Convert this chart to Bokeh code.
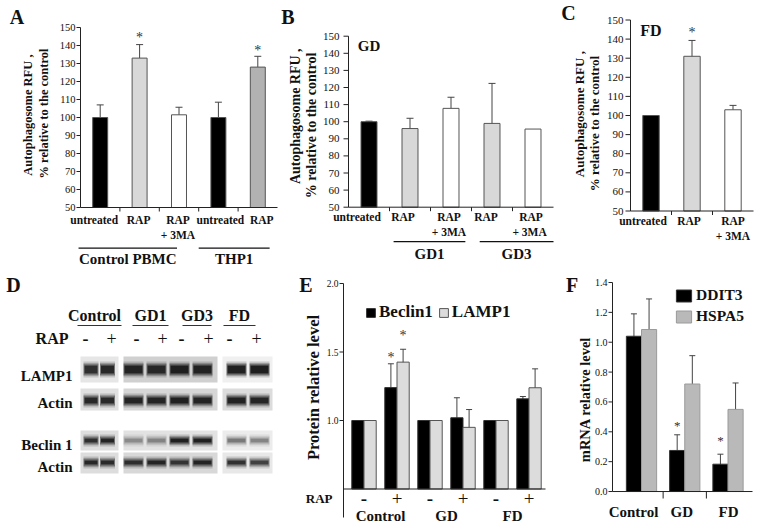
import math
from bokeh.plotting import figure
from bokeh.layouts import row, column
from bokeh.models import (ColumnDataSource, Whisker, TeeHead, Range1d, Legend, LegendItem)
from bokeh.core.properties import value
from bokeh.embed import file_html
from bokeh.resources import INLINE

SERIF = "'Liberation Serif', 'Times New Roman', serif"

# ---------------- data ----------------
# Panel A  (autophagosome RFU, % of control)
a_labels = ["untreated", "RAP", "RAP\n+ 3MA", "untreated", "RAP"]
a_values = [100, 133, 101.5, 100, 128]
a_err_low = [93, 126, 97, 92, 122]
a_err_high = [107, 140.5, 105.7, 108.5, 134]
a_fill = ["#000000", "#d8d8d8", "#ffffff", "#000000", "#b2b2b2"]
a_groups = ["Control PBMC", "THP1"]
a_group_extent = [(-0.55, 1.95), (2.5, 4.3)]
a_star_x = [1, 4]
a_star_y = [146, 139]

# Panel B
b_title = "GD"
b_labels = ["untreated", "RAP", "RAP\n+ 3MA", "RAP", "RAP\n+  3MA"]
b_values = [100, 96, 107.8, 99, 95.7]
b_err_low = [99.6, 90.3, 101.4, 76.4, None]
b_err_high = [100.3, 102, 114.3, 122.4, None]
b_fill = ["#000000", "#d8d8d8", "#ffffff", "#d8d8d8", "#ffffff"]
b_groups = ["GD1", "GD3"]
b_group_extent = [(0.6, 2.35), (2.7, 4.5)]
b_star_x = []
b_star_y = []

# Panel C
c_title = "FD"
c_labels = ["untreated", "RAP", "RAP\n+ 3MA"]
c_values = [100, 131, 103]
c_err_low = [None, 123, 100.7]
c_err_high = [None, 139.3, 105.3]
c_fill = ["#000000", "#d8d8d8", "#ffffff"]
c_star_x = [1]
c_star_y = [145]

# Panel D (western blot band intensities, 0..1)
d_groups = ["Control", "GD1", "GD3", "FD"]
d_rap = ["-", "+", "-", "+", "-", "+", "-", "+"]
d_rows = ["LAMP1", "Actin", "Beclin 1", "Actin"]
d_lamp1 = [0.82, 0.88, 0.9, 0.86, 0.95, 0.92, 0.95, 0.97]
d_actin1 = [0.88, 0.86, 0.9, 0.9, 0.95, 0.92, 0.93, 0.9]
d_beclin = [0.82, 0.9, 0.3, 0.33, 0.95, 0.95, 0.4, 0.35]
d_actin2 = [0.88, 0.85, 0.82, 0.9, 0.78, 0.9, 0.8, 0.7]

# Panel E (protein relative level)
e_rap = ["-", "+", "-", "+", "-", "+"]
e_groups = ["Control", "GD", "FD"]
e_beclin = [1.0, 1.24, 1.0, 1.02, 1.0, 1.158]
e_beclin_lo = [None, 1.07, None, 0.88, None, 1.14]
e_beclin_hi = [None, 1.414, None, 1.166, None, 1.175]
e_lamp = [1.0, 1.426, 1.0, 0.95, 1.0, 1.239]
e_lamp_lo = [None, 1.326, None, 0.83, None, 1.097]
e_lamp_hi = [None, 1.52, None, 1.08, None, 1.377]
e_star_x = [0.815, 1.185]
e_star_y = [1.48, 1.645]

# Panel F (mRNA relative level)
f_groups = ["Control", "GD", "FD"]
f_ddit3 = [1.04, 0.275, 0.183]
f_ddit3_lo = [0.89, 0.17, 0.12]
f_ddit3_hi = [1.19, 0.38, 0.25]
f_hspa5 = [1.085, 0.72, 0.55]
f_hspa5_lo = [0.88, 0.52, 0.375]
f_hspa5_hi = [1.29, 0.91, 0.727]
f_star_x = [0.825, 1.825]
f_star_y = [0.465, 0.365]

INK = "#222222"
EDGE = "#555555"


def panel_fig(page_left, page_top, W, H, X, Y):
    p = figure(toolbar_location=None, output_backend="svg", x_axis_location=None,
               y_axis_location=None, frame_width=W, frame_height=H, min_border=0,
               x_range=Range1d(X(page_left), X(page_left + W)),
               y_range=Range1d(Y(page_top + H), Y(page_top)))
    p.background_fill_color = "white"
    p.border_fill_color = "white"
    p.outline_line_color = None
    p.grid.visible = False
    return p


def texts(p, xs, ys, ts, size, bold=True, align="center", color="#111111", angle=0.0):
    p.text(x=list(xs), y=list(ys), text=list(ts), text_font=value(SERIF),
           text_font_size=value(size), text_font_style=value("bold" if bold else "normal"),
           text_align=value(align), text_baseline=value("middle"), text_color=value(color),
           angle=angle)


def signs(p, xs, ys, ts, size):
    # "-" drawn heavy, "+" drawn light, as in the figure
    for mark, bold in (("-", True), ("+", False)):
        sel = [i for i in range(len(ts)) if ts[i] == mark]
        texts(p, [xs[i] for i in sel], [ys[i] for i in sel], [ts[i] for i in sel], size, bold=bold)


def y_axis(p, X, ax_px, lo, hi, ticks, fmt, fs, out, standoff):
    ax = X(ax_px)
    p.segment(x0=[ax], y0=[lo], x1=[ax], y1=[hi], line_color=INK, line_width=1)
    n = len(ticks)
    p.segment(x0=[X(ax_px - out)] * n, y0=ticks, x1=[ax] * n, y1=ticks, line_color=INK, line_width=1)
    texts(p, [X(ax_px - out - standoff)] * n, ticks, [fmt % t for t in ticks], fs, bold=False,
          align="right")


def whiskers(p, xs, lo, hi, size=7):
    keep = [i for i in range(len(xs)) if lo[i] is not None]
    src = ColumnDataSource(dict(x=[xs[i] for i in keep], lo=[lo[i] for i in keep],
                                hi=[hi[i] for i in keep]))
    p.add_layout(Whisker(source=src, base="x", lower="lo", upper="hi", dimension="height",
                         line_color="#444444", line_width=1,
                         upper_head=TeeHead(size=size, line_color="#444444", line_width=1),
                         lower_head=TeeHead(size=size, line_color="#444444", line_width=1)))


# ---------------- panels A, B, C ----------------
def rfu_panel(labels, vals, lo, hi, fill, star_x, star_y, title, groups, gext, L):
    n = len(labels)
    cw, ys = L["cw"], L["ys"]
    X = lambda px: -0.5 + (px - L["axis"]) / cw
    Y = lambda py: 150 - (py - L["y150"]) / ys
    base_py = L["y150"] + 100 * ys
    p = panel_fig(L["pl"], 0, L["W"], 270, X, Y)

    y_axis(p, X, L["axis"], 50, 150, list(range(50, 151, 10)), "%d", L["tick_fs"], L["tick_out"],
           L["standoff"])

    idx = list(range(n))
    p.vbar(x=idx, top=vals, bottom=50, width=L["bw"], fill_color=fill, line_color=EDGE, line_width=1)
    whiskers(p, idx, lo, hi)

    # category axis line and boundary ticks
    p.segment(x0=[-0.5], y0=[50], x1=[n - 0.5], y1=[50], line_color=INK, line_width=1)
    bx = [i + 0.5 for i in range(n - 1)]
    p.segment(x0=bx, y0=[50] * len(bx), x1=bx, y1=[Y(base_py + 4)] * len(bx), line_color=INK)

    l1 = [t.split("\n")[0] for t in labels]
    l2 = [t.split("\n")[1] if "\n" in t else "" for t in labels]
    dx = L["dx"]
    texts(p, [i + dx[i] / cw for i in idx], [Y(base_py + L["r1"])] * n, l1, "11.5px")
    texts(p, [i + dx[i] / cw for i in idx], [Y(base_py + L["r2"])] * n, l2, "11.5px")

    if groups:
        gy = Y(base_py + L["gl"])
        p.segment(x0=[g[0] for g in gext], y0=[gy] * len(gext), x1=[g[1] for g in gext],
                  y1=[gy] * len(gext), line_color="#111111", line_width=1.3)
        texts(p, [(g[0] + g[1]) / 2 for g in gext], [Y(base_py + L["gt"])] * len(gext), groups, "15px")

    if star_x:
        texts(p, star_x, [v - 3 / ys for v in star_y], ["*"] * len(star_x), "14px", bold=False,
              color="#333333")
    if title:
        texts(p, [0], [144.5], [title], L["title_fs"])

    texts(p, [X(L["letter"][0])], [Y(L["letter"][1])], [L["letter_t"]], "20px")
    texts(p, [X(L["yl1"][0])], [Y(L["yl1"][1])], ["Autophagosome  RFU ,"], L["yl_fs"],
          angle=math.pi / 2)
    texts(p, [X(L["yl2"][0])], [Y(L["yl2"][1])], ["% relative to the control"], L["yl_fs"],
          angle=math.pi / 2)
    return p


LA = dict(pl=0, W=280, cw=39.4, axis=80, ys=1.8, y150=27, tick_fs="10.5px", tick_out=4, standoff=1,
          bw=0.38, dx=[-6, -1, -1, 2, 4], r1=12, r2=27, gl=40.7, gt=51, title_fs="15px",
          letter=(16.5, 16), letter_t="A", yl1=(27.5, 113), yl2=(43, 113), yl_fs="12.5px")
LB = dict(pl=280, W=276, cw=41, axis=348, ys=1.71, y150=35.7, tick_fs="11px", tick_out=5, standoff=4,
          bw=0.39, dx=[-12, -7, -2, -6, -2], r1=9.5, r2=25, gl=34.5, gt=46.5, title_fs="15px",
          letter=(287.5, 16), letter_t="B", yl1=(295, 114), yl2=(311, 125), yl_fs="14px")
LC = dict(pl=556, W=207, cw=41, axis=630, ys=1.91, y150=19.5, tick_fs="11px", tick_out=5, standoff=2,
          bw=0.4, dx=[-8, -3, 0], r1=10, r2=25, gl=40, gt=50, title_fs="16px",
          letter=(568, 12.5), letter_t="C", yl1=(578.5, 112), yl2=(594, 123), yl_fs="13px")

pA = rfu_panel(a_labels, a_values, a_err_low, a_err_high, a_fill, a_star_x, a_star_y, None,
               a_groups, a_group_extent, LA)
pB = rfu_panel(b_labels, b_values, b_err_low, b_err_high, b_fill, b_star_x, b_star_y, b_title,
               b_groups, b_group_extent, LB)
pC = rfu_panel(c_labels, c_values, c_err_low, c_err_high, c_fill, c_star_x, c_star_y, c_title,
               [], [], LC)

# ---------------- panel D (blot) ----------------
DX = lambda px: px
DY = lambda py: py
pD = panel_fig(0, 270, 283, 255, DX, DY)

lane_x = [90.5, 107, 133, 156, 179, 202, 236, 259]
lane_w = [16, 16, 21, 21, 21, 21, 21, 21]
sign_x = [85, 111, 136, 162, 181, 208, 229, 256]
strip_x = [(80, 118), (123, 217), (222, 272)]
row_strip_y = [(356, 382), (388, 410), (430, 450), (452, 473)]
row_band_y = [369, 400, 440, 462]
row_band_h = [11, 9, 7, 7]
row_label_y = [375, 402, 444, 466]
strip_fill = [["#e6e6e6", "#d0d0d0", "#f0f0f0"],
              ["#e0e0e0", "#d6d6d6", "#dcdcdc"],
              ["#dedede", "#e2e2e2", "#ececec"],
              ["#dddddd", "#d8d8d8", "#e8e8e8"]]
intens = [d_lamp1, d_actin1, d_beclin, d_actin2]

for r in range(len(d_rows)):
    sy0, sy1 = row_strip_y[r]
    pD.quad(left=[s[0] for s in strip_x], right=[s[1] for s in strip_x], bottom=[sy1] * 3,
            top=[sy0] * 3, fill_color=strip_fill[r], line_color=None)
    I = intens[r]
    h = row_band_h[r]
    for dw, dh, afac in ((-1, 5, 0.2), (-1, 1, 0.5), (-3, -3, 0.9)):
        pD.rect(x=lane_x, y=[row_band_y[r]] * len(lane_x), width=[w + dw for w in lane_w],
                height=max(h + dh, 2), fill_color="#141414",
                fill_alpha=[afac * v for v in I], line_color=None)

texts(pD, [72] * 4, row_label_y, d_rows, "15px", align="right")
head_x = [94, 150, 196.5, 239]
head_ul = [(77, 121), (132, 168), (182, 211), (223, 255)]
texts(pD, head_x, [315] * 4, d_groups, "16px")
pD.segment(x0=[u[0] for u in head_ul], x1=[u[1] for u in head_ul], y0=[325] * 4, y1=[325] * 4,
           line_color="#333333", line_width=1.2)
texts(pD, [68], [338], ["RAP"], "16px", align="right")
signs(pD, sign_x, [338] * len(sign_x), d_rap, "18px")
texts(pD, [13], [284], ["D"], "20px")

# ---------------- panel E ----------------
EX = lambda px: (px - 363.5) / 33.0
EY = lambda py: 2.0 - (py - 283) / 137.0
pE = panel_fig(283, 270, 265, 255, EX, EY)
y_axis(pE, EX, 343, EY(517), 2.0, [1.0, 1.5, 2.0], "%.1f", "9.5px", 4, 1)

e_idx = list(range(len(e_rap)))
off = 0.185
ebx = [i - off for i in e_idx]
elx = [i + off for i in e_idx]
rb = pE.vbar(x=ebx, top=e_beclin, bottom=0.5, width=0.37, fill_color="#000000", line_color="#333333")
rl = pE.vbar(x=elx, top=e_lamp, bottom=0.5, width=0.37, fill_color="#dcdcdc", line_color=EDGE)
whiskers(pE, ebx, e_beclin_lo, e_beclin_hi, size=6)
whiskers(pE, elx, e_lamp_lo, e_lamp_hi, size=6)
pE.segment(x0=[EX(343)], x1=[EX(545)], y0=[0.5], y1=[0.5], line_color=INK, line_width=1.2)
texts(pE, e_star_x, [v - 3 / 137.0 for v in e_star_y], ["*"] * len(e_star_x), "14px", bold=False,
      color="#333333")
signs(pE, e_idx, [EY(497.5)] * len(e_idx), e_rap, "19px")
texts(pE, [2 * g + 0.5 for g in range(len(e_groups))], [EY(515.5)] * len(e_groups), e_groups, "15px")
texts(pE, [EX(332)], [EY(497.5)], ["RAP"], "13px", align="right")
texts(pE, [EX(305.5)], [EY(284)], ["E"], "20px")
texts(pE, [EX(312.5)], [EY(387)], ["Protein relative level"], "16.5px", angle=math.pi / 2)
legE = Legend(items=[LegendItem(label="Beclin1", renderers=[rb]), LegendItem(label="LAMP1", renderers=[rl])],
              orientation="horizontal", location=(82, 203), glyph_width=11, glyph_height=11,
              label_standoff=3, spacing=5, padding=0, margin=0, border_line_color=None,
              background_fill_alpha=0, label_text_font=SERIF, label_text_font_style="bold",
              label_text_font_size="17px", label_text_color="#111111")
pE.add_layout(legE)

# ---------------- panel F ----------------
FX = lambda px: (px - 641) / 43.25
FY = lambda py: 1.4 - (py - 282) / 149.3
pF = panel_fig(548, 270, 215, 255, FX, FY)
y_axis(pF, FX, 612, 0, 1.4, [0, 0.2, 0.4, 0.6, 0.8, 1.0, 1.2, 1.4], "%.1f", "10px", 4, 1)

f_idx = list(range(len(f_groups)))
offF = 0.175
fdx = [i - offF for i in f_idx]
fhx = [i + offF for i in f_idx]
rd = pF.vbar(x=fdx, top=f_ddit3, bottom=0, width=0.35, fill_color="#000000", line_color="#333333")
rh = pF.vbar(x=fhx, top=f_hspa5, bottom=0, width=0.35, fill_color="#b9b9b9", line_color="#9a9a9a")
whiskers(pF, fdx, f_ddit3_lo, f_ddit3_hi, size=6)
whiskers(pF, fhx, f_hspa5_lo, f_hspa5_hi, size=6)
pF.segment(x0=[FX(612)], x1=[FX(752)], y0=[0], y1=[0], line_color=INK, line_width=1)
fb = [i + 0.5 for i in range(len(f_groups) - 1)]
pF.segment(x0=fb, x1=fb, y0=[0] * len(fb), y1=[FY(498)] * len(fb), line_color=INK)
texts(pF, f_star_x, [v - 3 / 149.3 for v in f_star_y], ["*"] * len(f_star_x), "13px", bold=False,
      color="#333333")
f_dx = [-8, -3, 0.5]
texts(pF, [i + f_dx[i] / 43.25 for i in f_idx], [FY(511)] * len(f_idx), f_groups, "15px")
texts(pF, [FX(571.5)], [FY(284)], ["F"], "20px")
texts(pF, [FX(584)], [FY(399)], ["mRNA relative level"], "14.5px", angle=math.pi / 2)
legF = Legend(items=[LegendItem(label="DDIT3", renderers=[rd]), LegendItem(label="HSPA5", renderers=[rh])],
              orientation="vertical", location=(126, 200), glyph_width=19, glyph_height=15,
              label_standoff=3, spacing=3, padding=0, margin=0, border_line_color=None,
              background_fill_alpha=0, label_text_font=SERIF, label_text_font_style="bold",
              label_text_font_size="15.5px", label_text_color="#111111")
pF.add_layout(legF)

layout = column(row(pA, pB, pC), row(pD, pE, pF))
open("out.html", "w").write(file_html(layout, INLINE))
